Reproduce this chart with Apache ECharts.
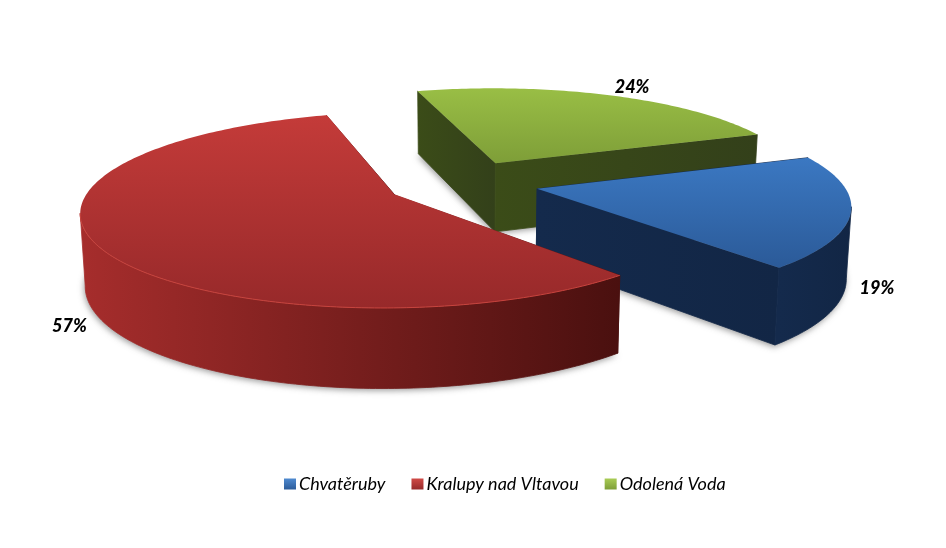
<!DOCTYPE html>
<html><head><meta charset="utf-8">
<style>html,body{margin:0;padding:0;background:#fff}#c{width:946px;height:548px}</style>
<script src="https://cdn.jsdelivr.net/npm/echarts@6/dist/echarts.min.js"></script>
</head><body><div id="c"></div>
<script>
const categories=['Chvatěruby','Kralupy nad Vltavou','Odolená Voda'];
const shares=[19,57,24];

// camera: plane-to-screen homography, slice explosion, first-slice angle
const H=[308.4607,40.4281,462.4147,-7.1718,-63.6452,183.2676,0.0123,0.1524];
const explode=0.2505, rotation=75.4619;
const topStops=[['#3b78c2','#2b5a98'],['#c43b39','#97292a'],['#99be45','#7e9e38']];
const wallStops=[['#142a4c','#122645'],['#a62d2c','#4a100f'],['#3b4c18','#33401a']];
const legendStops=[['#4f8ad0','#2c5c9a'],['#d04a46','#962a2a'],['#a9cc55','#7e9e38']];
const labelOff=[[26,3],[-28,5],[24,-8]];
const drawOrder=[2,0,1];

function angs(){let a=rotation,r=[];for(const v of shares){const s=a,e=a+v*3.6;r.push([s,e]);a=e;}return r;}
function pr(X,Y){const w=H[6]*X+H[7]*Y+1;return [(H[0]*X+H[1]*Y+H[2])/w,(H[3]*X+H[4]*Y+H[5])/w];}
function pt(i,ang,r){const A=angs()[i],m=(A[0]+A[1])/2*Math.PI/180,t=ang*Math.PI/180;
 return pr(explode*Math.sin(m)+r*Math.sin(t),explode*Math.cos(m)+r*Math.cos(t));}
function sweep(i,a0,a1){const out=[];for(let a=a0;a<a1;a+=1)out.push(pt(i,a,1));if(a1>a0)out.push(pt(i,a1,1));return out;}
// silhouette: angles where the projected circle reaches its right and left extremes
function limits(i){let aR=0,aL=0,mx=-1e9,mn=1e9;for(let a=0;a<360;a+=.5){const x=pt(i,a,1)[0];if(x>mx){mx=x;aR=a;}if(x<mn){mn=x;aL=a;}}return [aR,aL];}

function grad(x0,y0,x1,y1,c){return new echarts.graphic.LinearGradient(x0,y0,x1,y1,[{offset:0,color:c[0]},{offset:1,color:c[1]}],true);}
function poly(points,fill,z2,seam){const style={fill};if(seam){style.stroke=fill;style.lineWidth=.8;}return {type:'polygon',z2,shape:{points},style};}
const drop=p=>55+0.083*p[1];
const bottom=p=>[465+(p[0]-465)*0.987,p[1]+drop(p)];
function render(i){return function(params,api){
 const A=angs()[i],z=drawOrder.indexOf(i)*10+1,lim=limits(i);
 const arc=sweep(i,A[0],A[1]);
 const ap=pt(i,0,0),top=[ap].concat(arc),bot=top.map(bottom);
 const ys=top.map(p=>p[1]),y0=Math.min(...ys),y1=Math.max(...ys);
 const kids=[];
 kids.push({type:'polygon',z2:0,shape:{points:bot},style:{fill:'#bbb',shadowBlur:6,shadowColor:'rgba(70,70,70,0.55)',shadowOffsetX:-1,shadowOffsetY:2}});
 const sP=arc[0],eP=arc[arc.length-1];
 kids.push(poly([ap,sP,bottom(sP),bottom(ap)],grad(Math.min(ap[0],sP[0]),0,Math.max(ap[0],sP[0]),0,wallStops[i]),z,true));
 kids.push(poly([ap,eP,bottom(eP),bottom(ap)],grad(Math.min(ap[0],eP[0]),0,Math.max(ap[0],eP[0]),0,wallStops[i]),z,true));
 const fr=sweep(i,Math.max(A[0],lim[0]),Math.min(A[1],lim[1]));
 if(fr.length>1){const xs=fr.map(p=>p[0]);
  kids.push(poly(fr.concat(fr.map(bottom).reverse()),grad(Math.min(...xs),0,Math.max(...xs),0,wallStops[i]),z+1,true));}
 kids.push(poly(top,grad(0,y0,0,y1,topStops[i]),z+2));
 if(i==1)kids.push({type:'polyline',z2:z+3,shape:{points:fr},style:{stroke:'#c8443e',lineWidth:1,fill:null}});
 const A2=(A[0]+A[1])/2,L=pt(i,A2,1);
 kids.push({type:'text',z2:50,style:{x:L[0]+labelOff[i][0],y:L[1]+labelOff[i][1]+(i==2?0:drop(L)),text:api.value(0)+'%',fill:'#000',font:'italic 900 18px Lato',align:'center',verticalAlign:'middle'}});
 return {type:'group',children:kids};
};}
const chart=echarts.init(document.getElementById('c'));
chart.setOption({animation:false,
 legend:{data:categories,left:279,top:470,itemWidth:12,itemHeight:11,itemGap:26,icon:'rect',textStyle:{fontStyle:'italic',fontFamily:'Lato',fontSize:18,color:'#000',padding:[0,0,0,-2]}},
 series:categories.map((n,i)=>({type:'custom',name:n,coordinateSystem:'none',
  itemStyle:{color:new echarts.graphic.LinearGradient(0,0,0,1,[{offset:0,color:legendStops[i][0]},{offset:1,color:legendStops[i][1]}])},
  data:[[shares[i]]],renderItem:render(i)}))});
</script></body></html>
